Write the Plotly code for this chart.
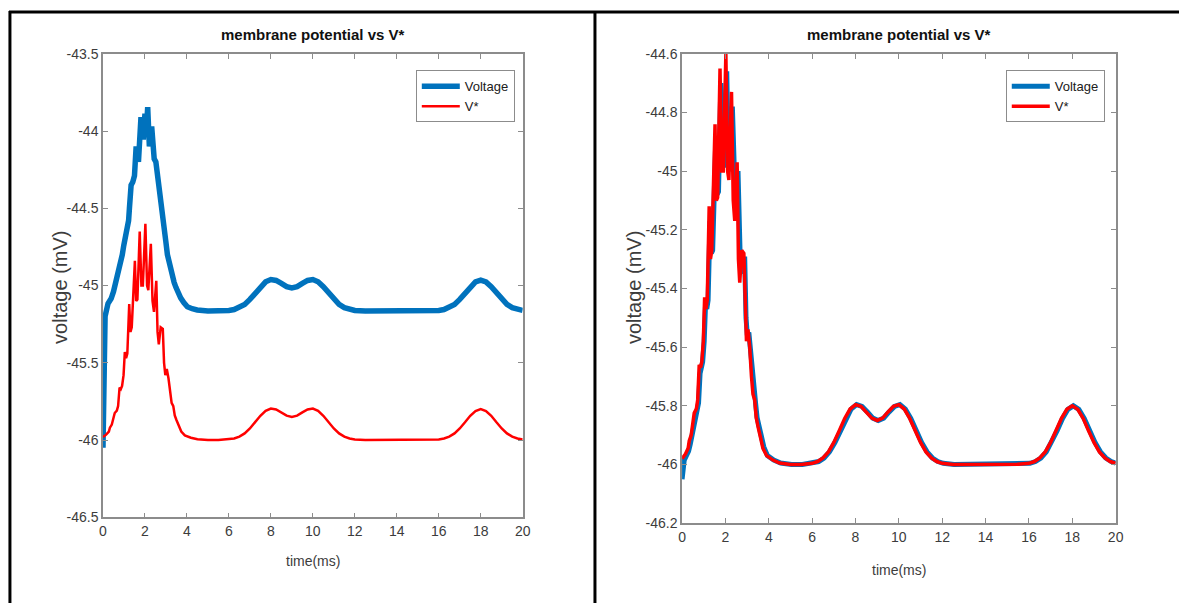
import plotly.graph_objects as go

# ---------------- data ----------------
# V* (red) - same signal in both panels
t_vstar = [0, 0.15, 0.28, 0.33, 0.42, 0.48, 0.56, 0.66, 0.72, 0.79, 0.85, 0.91, 0.98, 1.04,
           1.10, 1.16, 1.25, 1.31, 1.37, 1.52, 1.58, 1.64, 1.75, 1.83, 1.90, 2.02, 2.10, 2.16,
           2.28, 2.36, 2.43, 2.54, 2.60, 2.66, 2.75, 2.85, 2.91, 2.97, 3.04, 3.12, 3.20, 3.27,
           3.35, 3.42, 3.50, 3.60, 3.73, 3.90, 4.19, 4.50, 5.0, 5.5, 6.0, 6.25, 6.5, 6.75,
           7.0, 7.25, 7.5, 7.75, 8.0, 8.25, 8.5, 8.75, 9.0, 9.25, 9.5, 9.75, 10.0, 10.25,
           10.5, 10.75, 11.0, 11.25, 11.5, 11.75, 12.0, 12.5, 13.0, 14.0, 15.0, 15.5, 16.0,
           16.25, 16.5, 16.75, 17.0, 17.25, 17.5, 17.75, 18.0, 18.25, 18.5, 18.75, 19.0,
           19.25, 19.5, 19.75, 20.0]
vstar = [-45.98, -45.965, -45.945, -45.92, -45.90, -45.87, -45.825, -45.81, -45.78, -45.66,
         -45.67, -45.65, -45.58, -45.43, -45.47, -45.44, -45.12, -45.30, -45.27, -44.84,
         -45.10, -45.09, -44.65, -45.00, -45.00, -44.60, -45.00, -45.03, -44.73, -45.10,
         -45.17, -44.97, -45.30, -45.38, -45.27, -45.28, -45.50, -45.58, -45.54, -45.60,
         -45.70, -45.76, -45.78, -45.84, -45.87, -45.90, -45.945, -45.97, -45.985, -45.995,
         -46.0, -46.0, -45.996, -45.99, -45.978, -45.957, -45.925, -45.885, -45.843, -45.811,
         -45.796, -45.802, -45.821, -45.842, -45.85, -45.842, -45.821, -45.802, -45.796,
         -45.811, -45.843, -45.885, -45.925, -45.957, -45.978, -45.99, -45.996, -46.0,
         -46.0, -46.0, -46.0, -45.999, -45.996, -45.99, -45.978, -45.957, -45.925, -45.885,
         -45.843, -45.812, -45.80, -45.812, -45.843, -45.885, -45.925, -45.957, -45.978,
         -45.99, -45.996]

# Voltage (blue), left panel
t_volt_left = [0, 0.05, 0.10, 0.24, 0.39, 0.50, 0.55, 0.65, 0.71, 0.78, 0.84, 0.92, 0.99,
               1.06, 1.15, 1.22, 1.26, 1.34, 1.42, 1.50, 1.58, 1.63, 1.69, 1.81, 1.87, 1.92,
               2.00, 2.06, 2.13, 2.21, 2.32, 2.38, 2.44, 2.52, 2.60, 2.68, 2.76, 2.84, 2.92,
               2.99, 3.07, 3.15, 3.23, 3.31, 3.39, 3.47, 3.58, 3.70, 3.85, 4.02, 4.25, 4.49,
               5.0, 5.5, 6.0, 6.25, 6.5, 6.75, 7.0, 7.25, 7.5, 7.75, 8.0, 8.25, 8.5, 8.75,
               9.0, 9.25, 9.5, 9.75, 10.0, 10.25, 10.5, 10.75, 11.0, 11.25, 11.5, 11.75, 12.0,
               12.5, 13.0, 14.0, 15.0, 15.5, 16.0, 16.25, 16.5, 16.75, 17.0, 17.25, 17.5,
               17.75, 18.0, 18.25, 18.5, 18.75, 19.0, 19.25, 19.5, 19.75, 20.0]
volt_left = [-46.05, -45.60, -45.20, -45.116, -45.084, -45.04, -45.01, -44.98, -44.95, -44.88,
             -44.84, -44.80, -44.74, -44.70, -44.63, -44.58, -44.50, -44.35, -44.33, -44.29,
             -44.10, -44.17, -44.20, -43.91, -44.02, -44.055, -43.887, -44.01, -43.845,
             -44.10, -43.97, -44.10, -44.18, -44.20, -44.30, -44.39, -44.45, -44.56, -44.68,
             -44.71, -44.80, -44.85, -44.91, -44.96, -44.98, -45.01, -45.05, -45.08, -45.11,
             -45.137, -45.15, -45.158, -45.165, -45.165, -45.161, -45.155, -45.143, -45.122,
             -45.09, -45.05, -45.008, -44.976, -44.961, -44.967, -44.986, -45.007, -45.015,
             -45.007, -44.986, -44.967, -44.961, -44.976, -45.008, -45.05, -45.09, -45.122,
             -45.143, -45.155, -45.161, -45.165, -45.165, -45.165, -45.165, -45.164, -45.161,
             -45.155, -45.143, -45.122, -45.09, -45.05, -45.008, -44.977, -44.965, -44.977,
             -45.008, -45.05, -45.09, -45.122, -45.143, -45.155, -45.161]

# Voltage (blue), right panel
t_volt_right = [0, 0.05, 0.10, 0.20, 0.30, 0.38, 0.46, 0.52, 0.60, 0.70, 0.76, 0.83, 0.88,
                0.95, 1.02, 1.08, 1.14, 1.20, 1.29, 1.35, 1.41, 1.56, 1.62, 1.68, 1.79, 1.87,
                1.94, 2.06, 2.14, 2.20, 2.32, 2.40, 2.47, 2.58, 2.64, 2.70, 2.79, 2.89, 2.95,
                3.01, 3.08, 3.16, 3.24, 3.31, 3.39, 3.46, 3.54, 3.64, 3.77, 3.94, 4.23, 4.55,
                5.05, 5.55, 6.05, 6.3, 6.55, 6.8, 7.05, 7.3, 7.55, 7.8, 8.05, 8.3, 8.55, 8.8,
                9.05, 9.3, 9.55, 9.8, 10.05, 10.3, 10.55, 10.8, 11.05, 11.3, 11.55, 11.8,
                12.05, 12.55, 13.05, 14.05, 15.05, 15.55, 16.05, 16.3, 16.55, 16.8, 17.05,
                17.3, 17.55, 17.8, 18.05, 18.3, 18.55, 18.8, 19.05, 19.3, 19.55, 19.8, 20.0]
volt_right = [-46.05, -46.01, -45.985, -45.97, -45.955, -45.93, -45.90, -45.87, -45.835,
              -45.815, -45.79, -45.69, -45.67, -45.65, -45.58, -45.46, -45.47, -45.44, -45.17,
              -45.28, -45.27, -44.88, -45.08, -45.07, -44.70, -44.98, -44.98, -44.66, -44.97,
              -45.00, -44.78, -45.07, -45.14, -45.00, -45.28, -45.35, -45.30, -45.30, -45.50,
              -45.56, -45.55, -45.62, -45.70, -45.76, -45.79, -45.84, -45.87, -45.90, -45.94,
              -45.97, -45.985, -45.995, -46.0, -46.0, -45.996, -45.99, -45.978, -45.957,
              -45.925, -45.885, -45.843, -45.811, -45.796, -45.802, -45.821, -45.842, -45.85,
              -45.842, -45.821, -45.802, -45.796, -45.811, -45.843, -45.885, -45.925, -45.957,
              -45.978, -45.99, -45.996, -46.0, -46.0, -46.0, -46.0, -45.999, -45.996, -45.99,
              -45.978, -45.957, -45.925, -45.885, -45.843, -45.812, -45.80, -45.812, -45.843,
              -45.885, -45.925, -45.957, -45.978, -45.99, -45.995]

x_ticks = [0, 2, 4, 6, 8, 10, 12, 14, 16, 18, 20]
y_ticks_left = [-46.5, -46, -45.5, -45, -44.5, -44, -43.5]
y_ticklabels_left = ["-46.5", "-46", "-45.5", "-45", "-44.5", "-44", "-43.5"]
y_ticks_right = [-46.2, -46, -45.8, -45.6, -45.4, -45.2, -45, -44.8, -44.6]
y_ticklabels_right = ["-46.2", "-46", "-45.8", "-45.6", "-45.4", "-45.2", "-45", "-44.8", "-44.6"]

title_text = "membrane potential vs V*"
xlabel_text = "time(ms)"
ylabel_text = "voltage (mV)"

# ---------------- layout helpers ----------------
W, H = 1187, 611
FONT = "Liberation Sans, Arial, sans-serif"
BLUE = "#0072BD"
RED = "#FF0000"
AXC = "#8c8c8c"
TXC = "#3c3c3c"


def px(x):
    return x / W


def py(y):
    return 1 - y / H


fig = go.Figure()

fig.add_trace(go.Scatter(x=t_volt_left, y=volt_left, mode="lines", name="Voltage",
                         line=dict(color=BLUE, width=5.5), xaxis="x", yaxis="y", legend="legend"))
fig.add_trace(go.Scatter(x=t_vstar, y=vstar, mode="lines", name="V*",
                         line=dict(color=RED, width=2.5), xaxis="x", yaxis="y", legend="legend"))
fig.add_trace(go.Scatter(x=t_volt_right, y=volt_right, mode="lines", name="Voltage",
                         line=dict(color=BLUE, width=5), xaxis="x2", yaxis="y2", legend="legend2"))
fig.add_trace(go.Scatter(x=t_vstar, y=vstar, mode="lines", name="V*",
                         line=dict(color=RED, width=3.5), xaxis="x2", yaxis="y2", legend="legend2"))

axis_common = dict(showgrid=False, zeroline=False, showline=True, linecolor=AXC, linewidth=1.5,
                   mirror="ticks", ticks="inside", ticklen=5, tickcolor=AXC, tickwidth=1,
                   tickfont=dict(family=FONT, size=14, color=TXC))

legend_common = dict(xanchor="left", yanchor="top", bordercolor=AXC, borderwidth=1,
                     bgcolor="white", font=dict(family=FONT, size=13, color="#202020"),
                     itemwidth=38, tracegroupgap=0)

fig.update_layout(
    width=W, height=H,
    margin=dict(l=0, r=0, t=0, b=0),
    paper_bgcolor="white", plot_bgcolor="white",
    showlegend=True,
    xaxis=dict(domain=[px(100), px(524)], range=[0, 20], tickvals=x_ticks, anchor="y",
               **axis_common),
    yaxis=dict(domain=[py(523), py(47)], range=[-46.5, -43.5], tickvals=y_ticks_left,
               ticktext=y_ticklabels_left, anchor="x", **axis_common),
    xaxis2=dict(domain=[px(685), px(1123)], range=[0, 20], tickvals=x_ticks, anchor="y2",
                **axis_common),
    yaxis2=dict(domain=[py(529), py(47)], range=[-46.2, -44.6], tickvals=y_ticks_right,
                ticktext=y_ticklabels_right, anchor="x2", **axis_common),
    legend=dict(x=px(416), y=py(64), **legend_common),
    legend2=dict(x=px(1012), y=py(64), **legend_common),
)

ann = []
for cx, xy in [(312, 568), (904, 577)]:
    ann.append(dict(text="<b>" + title_text + "</b>", x=px(cx), y=py(27), xref="paper", yref="paper",
                    showarrow=False, xanchor="center", yanchor="middle",
                    font=dict(family=FONT, size=15, color="#111111")))
    ann.append(dict(text=xlabel_text, x=px(cx), y=py(xy), xref="paper", yref="paper",
                    showarrow=False, xanchor="center", yanchor="middle",
                    font=dict(family=FONT, size=14, color=TXC)))
for lx in [57, 637]:
    ann.append(dict(text=ylabel_text, x=px(lx), y=py(287), xref="paper", yref="paper", textangle=-90,
                    showarrow=False, xanchor="center", yanchor="middle",
                    font=dict(family=FONT, size=20, color=TXC)))
fig.update_layout(annotations=ann)

# outer table frame
frame = dict(type="line", xref="paper", yref="paper", line=dict(color="black", width=3))
fig.update_layout(shapes=[
    dict(frame, x0=px(6), x1=px(6), y0=0, y1=py(3)),
    dict(frame, x0=px(5), x1=1, y0=py(4), y1=py(4)),
    dict(frame, x0=px(597), x1=px(597), y0=0, y1=py(3)),
])

fig.write_html("out.html", post_script="document.body.style.margin='0px';")
